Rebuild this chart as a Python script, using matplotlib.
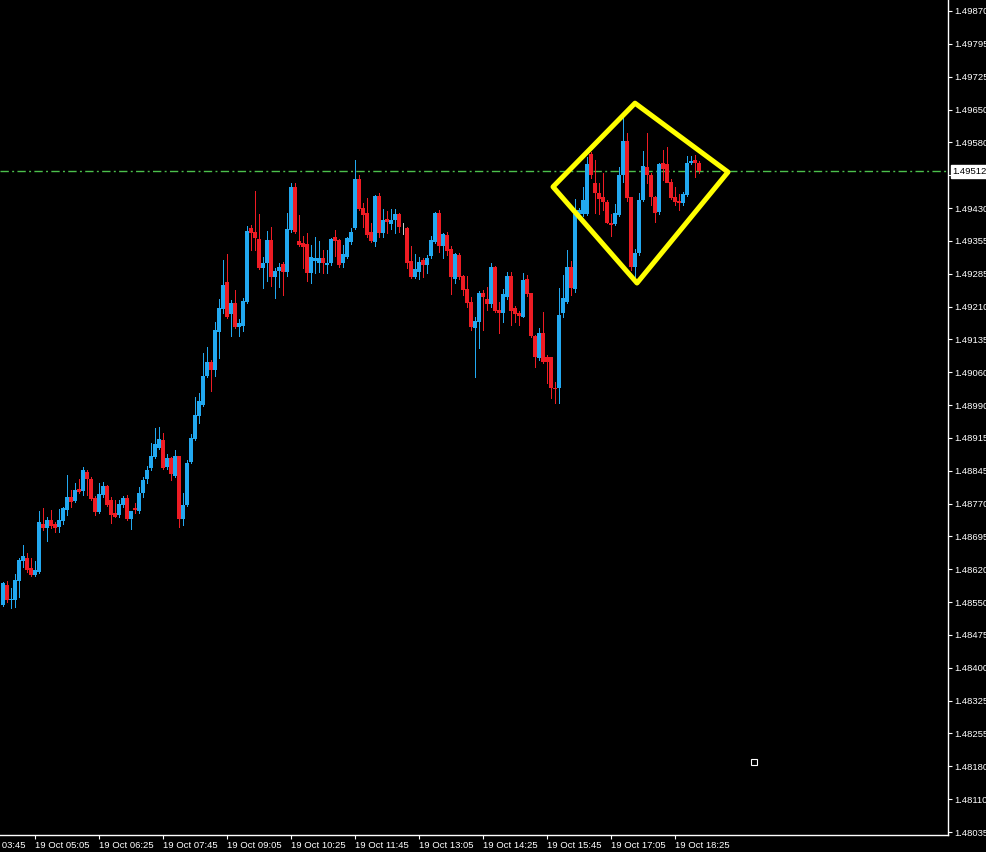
import matplotlib
matplotlib.use("Agg")
import matplotlib.pyplot as plt
import matplotlib.transforms as mtransforms
from matplotlib.patches import Polygon
import numpy as np

# ---------------- data (5 minute bars, 19 Oct 04:25 .. 18:55) -------------
opens = [
    1.48542, 1.48587, 1.48554, 1.48554, 1.48596, 1.48641, 1.48648, 1.48625, 1.48610, 1.48616,
    1.48724, 1.48715, 1.48732, 1.48724, 1.48717, 1.48730, 1.48755, 1.48784, 1.48775, 1.48802,
    1.48797, 1.48840, 1.48824, 1.48781, 1.48750, 1.48788, 1.48808, 1.48777, 1.48748, 1.48744,
    1.48766, 1.48781, 1.48734, 1.48759, 1.48753, 1.48793, 1.48824, 1.48848, 1.48873, 1.48893,
    1.48911, 1.48851, 1.48871, 1.48831, 1.48875, 1.48734, 1.48766, 1.48862, 1.48913, 1.48965,
    1.48989, 1.49054, 1.49086, 1.49068, 1.49153, 1.49204, 1.49264, 1.49193, 1.49217, 1.49164,
    1.49166, 1.49220, 1.49385, 1.49376, 1.49360, 1.49296, 1.49307, 1.49358, 1.49275, 1.49289,
    1.49305, 1.49287, 1.49381, 1.49477, 1.49356, 1.49352, 1.49349, 1.49284, 1.49311, 1.49307,
    1.49318, 1.49302, 1.49307, 1.49365, 1.49358, 1.49307, 1.49320, 1.49354, 1.49385, 1.49495,
    1.49430, 1.49419, 1.49376, 1.49354, 1.49457, 1.49374, 1.49405, 1.49394, 1.49403, 1.49416,
    1.49387, 1.49385, 1.49311, 1.49275, 1.49287, 1.49314, 1.49302, 1.49323, 1.49354, 1.49419,
    1.49345, 1.49369, 1.49338, 1.49271, 1.49325, 1.49278, 1.49249, 1.49220, 1.49162, 1.49175,
    1.49240, 1.49226, 1.49215, 1.49298, 1.49202, 1.49195, 1.49231, 1.49278, 1.49206, 1.49195,
    1.49186, 1.49271, 1.49240, 1.49144, 1.49095, 1.49150, 1.49097, 1.49097, 1.49027, 1.49027,
    1.49195, 1.49220, 1.49298, 1.49249, 1.49416, 1.49416, 1.49416, 1.49550, 1.49486, 1.49463,
    1.49454, 1.49443, 1.49396, 1.49394, 1.49414, 1.49503, 1.49579, 1.49454, 1.49298, 1.49329,
    1.49448, 1.49521, 1.49503, 1.49454, 1.49421, 1.49530, 1.49528, 1.49488, 1.49454, 1.49445,
    1.49441, 1.49459, 1.49530, 1.49537, 1.49530,
]
highs = [
    1.48594, 1.48596, 1.48580, 1.48612, 1.48648, 1.48677, 1.48659, 1.48648, 1.48641, 1.48753,
    1.48759, 1.48739, 1.48755, 1.48728, 1.48757, 1.48762, 1.48833, 1.48800, 1.48815, 1.48824,
    1.48851, 1.48844, 1.48829, 1.48786, 1.48815, 1.48817, 1.48811, 1.48784, 1.48777, 1.48777,
    1.48786, 1.48788, 1.48753, 1.48770, 1.48806, 1.48829, 1.48853, 1.48904, 1.48938, 1.48940,
    1.48927, 1.48880, 1.48873, 1.48889, 1.48875, 1.48793, 1.48867, 1.48925, 1.49007, 1.49016,
    1.49106, 1.49119, 1.49090, 1.49175, 1.49226, 1.49314, 1.49327, 1.49224, 1.49247, 1.49182,
    1.49229, 1.49390, 1.49392, 1.49468, 1.49416, 1.49320, 1.49378, 1.49387, 1.49296, 1.49307,
    1.49309, 1.49418, 1.49486, 1.49486, 1.49414, 1.49367, 1.49374, 1.49347, 1.49365, 1.49356,
    1.49336, 1.49336, 1.49363, 1.49381, 1.49360, 1.49347, 1.49365, 1.49385, 1.49537, 1.49503,
    1.49441, 1.49452, 1.49396, 1.49459, 1.49463, 1.49427, 1.49423, 1.49427, 1.49427, 1.49419,
    1.49396, 1.49387, 1.49345, 1.49327, 1.49320, 1.49318, 1.49325, 1.49367, 1.49421, 1.49425,
    1.49374, 1.49376, 1.49345, 1.49329, 1.49329, 1.49280, 1.49278, 1.49231, 1.49186, 1.49244,
    1.49247, 1.49253, 1.49307, 1.49300, 1.49220, 1.49249, 1.49287, 1.49287, 1.49211, 1.49200,
    1.49284, 1.49280, 1.49240, 1.49146, 1.49162, 1.49197, 1.49101, 1.49097, 1.49041, 1.49251,
    1.49280, 1.49336, 1.49311, 1.49450, 1.49430, 1.49477, 1.49544, 1.49555, 1.49537, 1.49486,
    1.49508, 1.49448, 1.49416, 1.49439, 1.49521, 1.49631, 1.49597, 1.49454, 1.49338, 1.49463,
    1.49557, 1.49597, 1.49508, 1.49457, 1.49530, 1.49559, 1.49566, 1.49495, 1.49477, 1.49461,
    1.49466, 1.49546, 1.49546, 1.49548, 1.49535,
]
lows = [
    1.48540, 1.48549, 1.48536, 1.48538, 1.48560, 1.48627, 1.48616, 1.48607, 1.48607, 1.48614,
    1.48710, 1.48685, 1.48715, 1.48706, 1.48706, 1.48724, 1.48744, 1.48762, 1.48773, 1.48793,
    1.48788, 1.48788, 1.48777, 1.48744, 1.48748, 1.48784, 1.48764, 1.48726, 1.48739, 1.48739,
    1.48762, 1.48732, 1.48712, 1.48748, 1.48748, 1.48784, 1.48815, 1.48844, 1.48871, 1.48891,
    1.48846, 1.48846, 1.48822, 1.48829, 1.48717, 1.48721, 1.48764, 1.48860, 1.48911, 1.48949,
    1.48987, 1.49052, 1.49021, 1.49054, 1.49095, 1.49195, 1.49184, 1.49144, 1.49162, 1.49144,
    1.49155, 1.49217, 1.49336, 1.49336, 1.49293, 1.49251, 1.49267, 1.49255, 1.49229, 1.49253,
    1.49235, 1.49278, 1.49376, 1.49374, 1.49345, 1.49296, 1.49267, 1.49262, 1.49284, 1.49287,
    1.49284, 1.49284, 1.49302, 1.49323, 1.49298, 1.49298, 1.49318, 1.49349, 1.49383, 1.49425,
    1.49387, 1.49365, 1.49354, 1.49345, 1.49365, 1.49365, 1.49374, 1.49383, 1.49374, 1.49376,
    1.49372, 1.49296, 1.49273, 1.49273, 1.49271, 1.49275, 1.49284, 1.49318, 1.49352, 1.49331,
    1.49318, 1.49325, 1.49238, 1.49262, 1.49271, 1.49235, 1.49208, 1.49157, 1.49052, 1.49117,
    1.49157, 1.49202, 1.49208, 1.49197, 1.49150, 1.49175, 1.49226, 1.49168, 1.49175, 1.49168,
    1.49186, 1.49233, 1.49141, 1.49074, 1.49090, 1.49083, 1.49039, 1.49005, 1.48994, 1.48994,
    1.49186, 1.49217, 1.49235, 1.49242, 1.49410, 1.49412, 1.49414, 1.49497, 1.49419, 1.49416,
    1.49425, 1.49396, 1.49367, 1.49392, 1.49412, 1.49488, 1.49445, 1.49291, 1.49275, 1.49325,
    1.49445, 1.49486, 1.49436, 1.49398, 1.49416, 1.49492, 1.49489, 1.49450, 1.49436, 1.49425,
    1.49436, 1.49457, 1.49528, 1.49499, 1.49508,
]
closes = [
    1.48592, 1.48554, 1.48556, 1.48598, 1.48643, 1.48652, 1.48621, 1.48610, 1.48621, 1.48728,
    1.48715, 1.48732, 1.48719, 1.48715, 1.48732, 1.48759, 1.48784, 1.48773, 1.48800, 1.48795,
    1.48844, 1.48824, 1.48779, 1.48750, 1.48790, 1.48808, 1.48766, 1.48744, 1.48739, 1.48768,
    1.48781, 1.48734, 1.48753, 1.48755, 1.48793, 1.48822, 1.48844, 1.48875, 1.48902, 1.48913,
    1.48848, 1.48871, 1.48835, 1.48875, 1.48734, 1.48766, 1.48860, 1.48916, 1.48967, 1.48998,
    1.49054, 1.49086, 1.49068, 1.49157, 1.49206, 1.49258, 1.49186, 1.49217, 1.49164, 1.49173,
    1.49222, 1.49378, 1.49374, 1.49363, 1.49296, 1.49307, 1.49358, 1.49275, 1.49289, 1.49298,
    1.49287, 1.49383, 1.49477, 1.49376, 1.49347, 1.49343, 1.49284, 1.49320, 1.49318, 1.49318,
    1.49307, 1.49307, 1.49360, 1.49356, 1.49302, 1.49327, 1.49363, 1.49376, 1.49495, 1.49428,
    1.49414, 1.49369, 1.49356, 1.49457, 1.49374, 1.49403, 1.49398, 1.49403, 1.49416, 1.49387,
    1.49387, 1.49307, 1.49275, 1.49293, 1.49309, 1.49302, 1.49318, 1.49358, 1.49419, 1.49345,
    1.49372, 1.49334, 1.49275, 1.49327, 1.49275, 1.49247, 1.49217, 1.49164, 1.49177, 1.49240,
    1.49231, 1.49215, 1.49298, 1.49200, 1.49195, 1.49238, 1.49278, 1.49200, 1.49193, 1.49188,
    1.49269, 1.49238, 1.49144, 1.49097, 1.49150, 1.49086, 1.49086, 1.49027, 1.49025, 1.49191,
    1.49229, 1.49298, 1.49251, 1.49416, 1.49425, 1.49448, 1.49528, 1.49503, 1.49463, 1.49450,
    1.49443, 1.49396, 1.49392, 1.49419, 1.49503, 1.49579, 1.49452, 1.49298, 1.49329, 1.49448,
    1.49524, 1.49503, 1.49454, 1.49419, 1.49528, 1.49517, 1.49486, 1.49452, 1.49443, 1.49441,
    1.49461, 1.49530, 1.49535, 1.49530, 1.49512,
]

# x-axis: one tick every 16 bars (80 minutes); first tick lies off-screen left
time_tick_bars = [-8, 8, 24, 40, 56, 72, 88, 104, 120, 136, 152, 168]
time_tick_labels = ["19 Oct 03:45", "19 Oct 05:05", "19 Oct 06:25", "19 Oct 07:45",
                    "19 Oct 09:05", "19 Oct 10:25", "19 Oct 11:45", "19 Oct 13:05",
                    "19 Oct 14:25", "19 Oct 15:45", "19 Oct 17:05", "19 Oct 18:25"]

# the tick under the current-price box carries no visible label
price_tick_labels = ["1.48035", "1.48110", "1.48180", "1.48255", "1.48325", "1.48400",
                     "1.48475", "1.48550", "1.48620", "1.48695", "1.48770", "1.48845",
                     "1.48915", "1.48990", "1.49060", "1.49135", "1.49210", "1.49285",
                     "1.49355", "1.49430", "", "1.49580", "1.49650", "1.49725",
                     "1.49795", "1.49870"]
price_low, price_high = 1.48035, 1.49870

last_price = 1.49512
# hand-drawn diamond (bar index, price)
diamond_bars = [158.0, 181.25, 158.5, 137.5]
diamond_prices = [1.49664, 1.49510, 1.49262, 1.49477]
marker_bar, marker_price = 187.75, 1.48192

# ---------------- figure -----------------------------------------------------------
W, H = 987, 852
fig = plt.figure(figsize=(W / 100, H / 100), dpi=100, facecolor="black")
ax = fig.add_axes([0, 17 / H, 948 / W, 835 / H], facecolor="black")

FONT = dict(family=["Liberation Sans", "DejaVu Sans"], size=6.8)

o = np.array(opens); h = np.array(highs); l = np.array(lows); c = np.array(closes)
idx = np.arange(len(o))
BLUE, RED, GREY = "#22a8f0", "#ee1c24", "#c8c8c8"
cols = np.where(c > o, BLUE, np.where(c < o, RED, GREY))

ax.vlines(idx, l, h, colors=cols, linewidth=0.6, zorder=2, antialiased=False)
body_bottom = np.minimum(o, c)
body_height = np.maximum(np.abs(c - o), 0.000012)
ax.bar(idx, body_height, bottom=body_bottom, width=0.86, color=cols,
       linewidth=0, zorder=3, antialiased=False)

# current price line + label
ax.axhline(last_price, color="#4cc04c", linewidth=1.0,
           linestyle=(0, (6, 2.4, 1.4, 2.4)), zorder=1)
trans = mtransforms.blended_transform_factory(ax.transAxes, ax.transData)
ax.annotate("1.49512", xy=(1.0, last_price), xycoords=trans,
            xytext=(3.4, 0), textcoords="offset points", ha="left", va="center",
            color="black", annotation_clip=False, zorder=10,
            bbox=dict(boxstyle="square,pad=0.22", fc="white", ec="white"), **FONT)

# yellow diamond
ax.add_patch(Polygon(list(zip(diamond_bars, diamond_prices)), closed=True,
                     fill=False, edgecolor="#ffff00", linewidth=3.6,
                     joinstyle="round", zorder=5))

# small white square
ax.plot([marker_bar], [marker_price], marker="s", markersize=4, markerfacecolor="black",
        markeredgecolor="white", markeredgewidth=0.8, linestyle="none", zorder=6)

# limits (pixel mapping: bar i at x = 3 + 4 i)
ax.set_xlim(-0.75, 236.25)
px_per_price = 821 / (price_high - price_low)
ax.set_ylim(price_low - 3 / px_per_price, price_high + 11 / px_per_price)

# spines
for s in ["top", "left"]:
    ax.spines[s].set_visible(False)
for s in ["right", "bottom"]:
    ax.spines[s].set_color("white")
    ax.spines[s].set_linewidth(1.0)

# y ticks on right
ax.yaxis.tick_right()
ax.set_yticks(np.linspace(price_low, price_high, len(price_tick_labels)))
ax.set_yticklabels(price_tick_labels, color="white", **FONT)
ax.tick_params(axis="y", colors="white", length=3, width=0.8, pad=1.3, direction="out")

# x ticks
vis = [(b, t) for b, t in zip(time_tick_bars, time_tick_labels) if b >= 0]
ax.set_xticks([b for b, _ in vis])
ax.set_xticklabels([t for _, t in vis], color="white", ha="left", **FONT)
ax.tick_params(axis="x", colors="white", length=3, width=0.8, pad=1.5, direction="out")
for b, t in zip(time_tick_bars, time_tick_labels):
    if b < 0:
        ax.annotate(t, xy=(b, 0), xycoords=("data", "axes fraction"),
                    xytext=(0, -4.5), textcoords="offset points", ha="left", va="top",
                    color="white", annotation_clip=False, **FONT)

fig.savefig("out.png", dpi=100, facecolor="black")
